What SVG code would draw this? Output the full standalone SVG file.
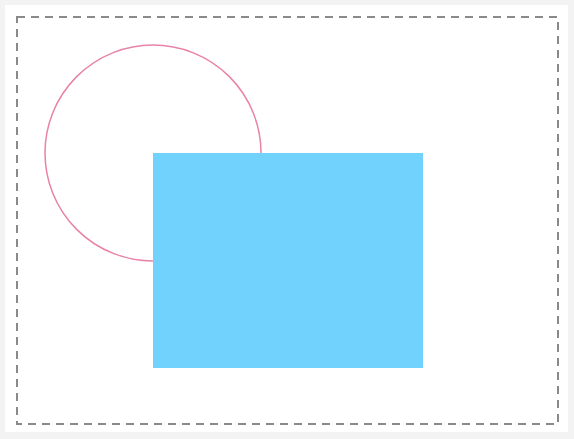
<svg xmlns="http://www.w3.org/2000/svg" width="574" height="439" viewBox="0 0 574 439">
<style>
.frame{fill:none;stroke:#8a8a8a;stroke-width:2;stroke-dasharray:8 6}
.circ{fill:none;stroke:#e882a9;stroke-width:1.5}
.box{fill:#72d2fe}
</style>
<rect x="0" y="0" width="574" height="439" fill="#f3f3f3"/>
<rect x="5" y="5" width="563" height="427" fill="#ffffff"/>
<rect class="frame" x="17" y="17" width="541" height="407"/>
<g id="circle"><circle class="circ" cx="153" cy="153" r="108"/></g>
<g id="rect"><rect class="box" x="153" y="153" width="270" height="215"/></g>
</svg>
